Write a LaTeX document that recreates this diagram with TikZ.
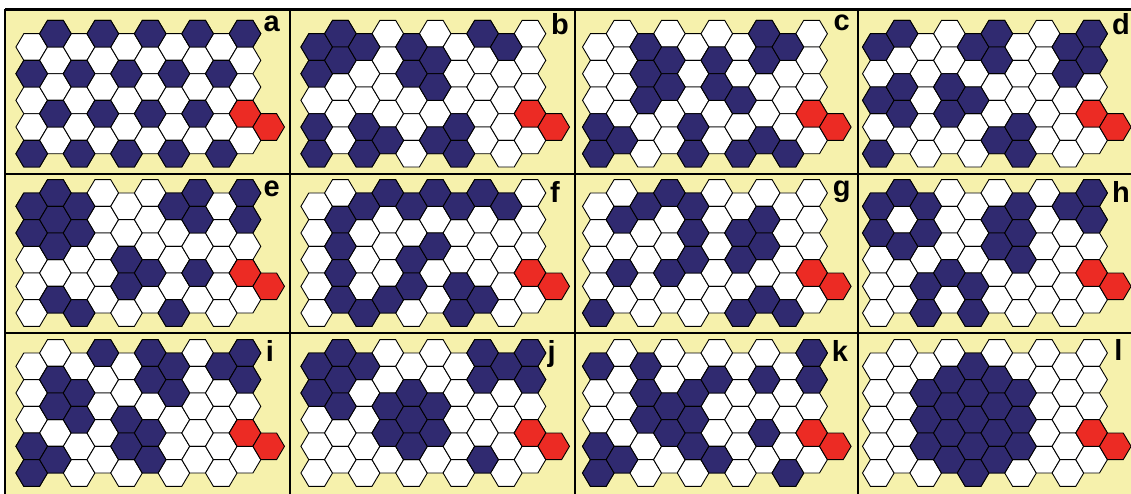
\documentclass[tikz,border=0pt]{standalone}
\usepackage{fontspec}
\newfontfamily\panelfont{Liberation Sans}
\definecolor{paneyellow}{RGB}{246,241,172}
\definecolor{cellnavy}{RGB}{48,42,112}
\definecolor{cellred}{RGB}{236,43,36}

\newcommand{\hexcell}[3]{%
  \filldraw[#3,shift={(#1,#2)}] (-15.8,0) -- (-7.9,-13.33) -- (7.9,-13.33)
    -- (15.8,0) -- (7.9,13.33) -- (-7.9,13.33) -- cycle;}
\newcommand{\hexpanel}[3]{%
  \foreach \c in {0,...,9}
    \foreach \r in {0,...,4} {
      \pgfmathsetmacro\hx{#1+\c*23.7}
      \pgfmathsetmacro\hy{#2+\r*26.67+mod(\c+1,2)*13.33}
      \hexcell{\hx}{\hy}{hexwhite}}
  \foreach \c/\r in {#3} {
      \pgfmathsetmacro\hx{#1+\c*23.7}
      \pgfmathsetmacro\hy{#2+\r*26.67+mod(\c+1,2)*13.33}
      \hexcell{\hx}{\hy}{hexnavy}}
  \hexcell{#1+213.3}{#2+80}{hexred}
  \hexcell{#1+237}{#2+93.33}{hexred}}

\begin{document}
\begin{tikzpicture}[x=1pt,y=-1pt,
  hexwhite/.style={fill=white,draw=black,line width=0.9pt},
  hexnavy/.style={fill=cellnavy,draw=black,line width=0.9pt},
  hexred/.style={fill=cellred,draw=black,line width=0.9pt},
  panellabel/.style={font=\panelfont\bfseries\fontsize{29}{29}\selectfont,anchor=base,inner sep=0pt},
  divider/.style={line width=2.4pt}]
  \useasboundingbox (0,0) rectangle (1131,494);
  \fill[white] (0,0) rectangle (1131,494);
  \fill[paneyellow] (5,9.5) rectangle (1131,494);
  % row 1
  \hexpanel{31.7}{33.7}{0/1,0/4,1/0,1/3,2/1,2/4,3/0,3/3,4/1,4/4,5/0,5/3,6/1,6/4,7/0,7/3,8/1,8/4,9/0}
  \hexpanel{316.7}{33.7}{0/0,0/1,0/3,0/4,1/0,1/1,2/0,2/3,2/4,3/4,4/0,4/1,5/1,5/2,5/4,6/3,6/4,7/0,8/0}
  \hexpanel{598.3}{33.7}{0/3,0/4,1/4,2/0,2/1,2/2,3/1,3/2,4/3,4/4,5/1,5/2,6/2,6/4,7/0,7/1,7/4,8/0,8/4}
  \hexpanel{878.3}{33.7}{0/0,0/2,0/4,1/0,1/2,1/3,3/2,3/3,4/0,4/2,5/0,5/1,5/4,6/3,6/4,8/0,8/1,9/0,9/1}
  % row 2
  \hexpanel{31.7}{193}{0/0,0/1,1/0,1/1,1/2,1/4,2/0,2/1,2/4,4/2,4/3,5/3,6/0,6/4,7/0,7/1,7/3,9/0,9/1}
  \hexpanel{316.7}{193}{1/1,1/2,1/3,1/4,2/0,2/4,3/0,3/4,4/0,4/2,4/3,5/0,5/2,6/0,6/3,6/4,7/0,7/4,8/0}
  \hexpanel{598.3}{193}{0/4,1/1,1/3,2/0,3/0,3/3,4/0,4/1,4/2,6/1,6/2,6/4,7/1,7/2,7/4,8/4}
  \hexpanel{878.3}{193}{0/0,0/1,1/0,1/2,2/0,2/1,2/3,2/4,3/3,4/3,4/4,5/1,5/2,6/0,6/1,6/2,8/0,9/0,9/1}
  % row 3
  \hexpanel{31.7}{353}{0/3,0/4,1/1,1/2,1/4,2/1,2/2,3/0,4/2,4/3,5/0,5/1,5/3,5/4,6/0,6/1,8/0,9/0,9/1}
  \hexpanel{316.7}{353}{0/0,0/1,1/0,1/1,1/2,2/0,3/2,3/3,4/1,4/2,4/3,5/2,5/3,7/0,7/1,7/4,8/0,9/0,9/1}
  \hexpanel{598.3}{353}{0/0,0/3,0/4,1/4,2/0,2/1,2/2,3/2,3/3,4/1,4/2,4/3,5/1,5/4,7/1,7/3,8/4,9/0,9/1}
  \hexpanel{878.3}{353}{2/1,2/2,2/3,3/1,3/2,3/3,3/4,4/0,4/1,4/2,4/3,4/4,5/1,5/2,5/3,5/4,6/1,6/2,6/3}
  % frame
  \draw[divider] (5,9.5) -- (1131,9.5);
  \draw[divider] (5,174) -- (1131,174);
  \draw[divider] (5,333) -- (1131,333);
  \foreach \vx in {5,290,575,858}
    \draw[divider] (\vx,9.5) -- (\vx,494);
  \node[panellabel] (laba) at (271.7,31.7) {a};
  \node[panellabel] (labb) at (560,35) {b};
  \node[panellabel] (labc) at (841.7,30.7) {c};
  \node[panellabel] (labd) at (1121,35) {d};
  \node[panellabel] (labe) at (271.7,196.3) {e};
  \node[panellabel] (labf) at (555,203) {f};
  \node[panellabel] (labg) at (841.7,196.3) {g};
  \node[panellabel] (labh) at (1121,203) {h};
  \node[panellabel] (labi) at (270,361) {i};
  \node[panellabel] (labj) at (551.7,361) {j};
  \node[panellabel] (labk) at (840,361) {k};
  \node[panellabel] (labl) at (1118.3,360) {l};
\end{tikzpicture}
\end{document}
